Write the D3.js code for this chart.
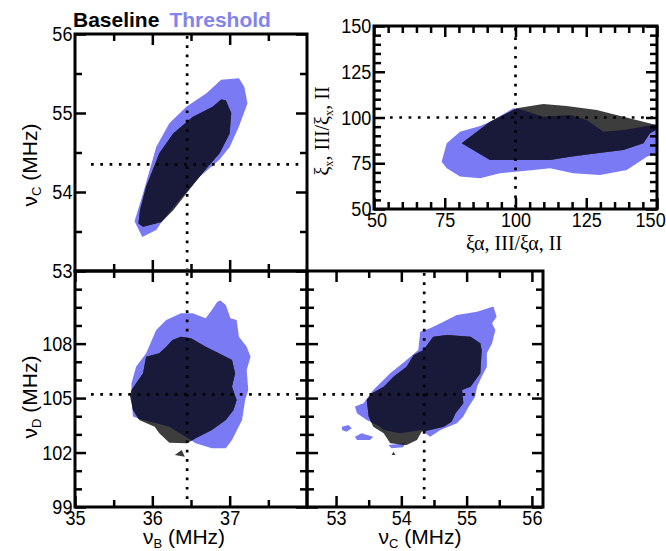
<!DOCTYPE html>
<html>
<head>
<meta charset="utf-8">
<script src="https://cdn.jsdelivr.net/npm/d3@7"></script>
<style>
  body { margin: 0; background: #fff; }
  svg { display: block; }
</style>
</head>
<body>
<svg id="chart" width="666" height="551"></svg>
<script>
// --- reference values (dotted lines)
const refB = 36.45, refC = 54.35, refD = 105.2, refXi = 100;

// --- top-left: nu_B vs nu_C
const tlThreshold = [[35.87,53.43],[35.77,53.63],[35.88,53.98],[36.05,54.57],[36.22,54.87],[36.44,55.08],[36.70,55.25],
  [36.89,55.42],[37.12,55.44],[37.19,55.33],[37.23,55.12],[37.12,54.83],[37.00,54.57],[36.87,54.41],[36.61,54.19],
  [36.35,53.90],[36.14,53.65],[36.05,53.52]];
const tlBaseline = [[35.82,53.60],[35.88,53.56],[36.12,53.62],[36.27,53.77],[36.44,53.98],[36.65,54.24],[36.87,54.49],
  [37.00,54.74],[37.02,55.00],[36.95,55.16],[36.89,55.17],[36.78,55.08],[36.52,54.95],[36.27,54.74],[36.09,54.49],
  [35.92,54.07],[35.84,53.77]];

// --- top-right: xi_alpha ratio vs xi_x ratio
const trThreshold = [[73.9,75.8],[75.7,85.9],[80.4,92.2],[87.5,95.4],[91.0,97.7],[99.2,105.0],[101.6,104.5],[109.8,100.4],
  [119.3,101.4],[125.2,98.6],[131.0,92.2],[138.1,93.2],[145.2,95.0],[150.0,96.4],[152.8,97.5],[152.8,82.2],[146.4,78.6],
  [139.3,71.3],[129.9,68.6],[120.4,69.5],[112.2,72.2],[106.3,71.3],[94.5,69.5],[87.5,66.8],[80.4,67.7],[75.7,72.2]];
const trBaseline = [[81.0,85.9],[91.0,97.7],[100.4,105.0],[109.8,107.4],[118.1,106.3],[128.7,104.1],[138.1,100.4],
  [145.2,97.7],[152.0,95.0],[147.5,91.4],[145.2,85.9],[138.1,82.2],[128.7,80.4],[119.3,78.6],[112.2,76.8],[101.6,76.8],
  [91.0,76.8]];

// --- bottom-left: nu_B vs nu_D
const blThreshold = [[36.88,110.37],[36.95,110.13],[37.01,109.40],[37.09,109.30],[37.12,108.38],[37.22,107.83],
  [37.27,107.28],[37.22,106.55],[37.24,105.45],[37.20,104.90],[37.16,103.79],[37.03,102.69],[36.95,102.23],[36.77,102.23],
  [36.56,102.51],[36.43,102.87],[36.22,103.42],[36.05,103.61],[35.88,103.79],[35.75,103.98],[35.73,104.90],[35.73,105.82],
  [35.79,106.73],[35.92,107.47],[36.05,108.75],[36.18,109.30],[36.37,109.67],[36.52,109.67],[36.69,109.40],[36.77,109.85],
  [36.84,110.31]];
const blBaseline = [[36.37,108.38],[36.50,108.29],[36.69,107.83],[36.86,107.47],[37.03,107.10],[37.07,106.37],
  [37.03,105.63],[37.09,104.90],[37.05,104.34],[36.95,103.79],[36.77,103.24],[36.56,102.79],[36.45,102.51],[36.22,102.54],
  [36.09,103.06],[36.03,103.42],[35.83,103.79],[35.75,104.34],[35.71,105.12],[35.73,105.45],[35.88,106.37],[35.92,107.28],
  [36.09,107.47],[36.18,107.83],[36.26,108.20]];
const blBaselineIsland = [[36.29,101.87],[36.38,102.14],[36.42,101.77]];

// --- bottom-right: nu_C vs nu_D
const brThreshold = [[55.41,110.04],[55.46,109.48],[55.39,109.12],[55.44,108.75],[55.39,108.02],[55.31,107.47],
  [55.31,106.73],[55.23,106.18],[55.16,105.63],[55.13,105.08],[55.02,104.45],[54.95,103.98],[54.85,103.61],[54.60,103.24],
  [54.44,102.87],[54.31,103.24],[53.98,103.06],[53.73,103.24],[53.68,103.42],[53.47,103.79],[53.32,104.16],[53.29,104.53],
  [53.42,104.71],[53.57,105.45],[53.83,106.37],[54.08,107.10],[54.26,107.65],[54.29,108.66],[54.44,108.85],[54.60,109.12],
  [54.85,109.58],[55.16,109.76]];
const brThresholdIslands = [
  [[53.09,103.42],[53.19,103.52],[53.24,103.34],[53.16,103.15],[53.09,103.24]],
  [[53.29,102.87],[53.39,103.06],[53.57,102.87],[53.52,102.69],[53.32,102.69]],
  [[53.80,102.42],[54.06,102.51],[54.03,102.29],[53.85,102.23]]];
const brBaseline = [[54.49,108.38],[54.70,108.48],[55.06,108.38],[55.21,108.02],[55.23,107.65],[55.21,106.37],
  [55.06,105.63],[54.93,105.45],[54.95,104.71],[54.83,104.16],[54.77,103.70],[54.65,103.42],[54.44,103.24],[54.31,103.15],
  [54.24,102.69],[54.08,102.42],[53.83,102.51],[53.73,103.06],[53.57,103.42],[53.50,103.98],[53.47,104.90],[53.55,105.26],
  [53.73,105.63],[53.88,106.18],[54.08,106.73],[54.19,107.37],[54.34,107.65],[54.44,108.15]];
const brBaselineIsland = [[53.85,101.86],[53.88,102.05],[53.91,101.86]];

// --- ticks
const tlXMajor = [36, 37], tlXMinor = [35.5, 36.5, 37.5];
const bXMajor = [35, 36, 37];
const tlYMajor = [53, 54, 55, 56], tlYMinor = [53.5, 54.5, 55.5];
const dYMajor = [99, 102, 105, 108], dYMinor = [100, 101, 103, 104, 106, 107, 109, 110, 111];
const cXMajor = [53, 54, 55, 56], cXMinor = [53.5, 54.5, 55.5];
const xiMajor = [50, 75, 100, 125, 150], xiMinor = d3.range(55, 150, 5).filter((v) => v % 25);

const colThreshold = "#7a7af5", colBaseline = "#3d3d3d", colBoth = "#19193a";

const svg = d3.select("#chart");
const defs = svg.append("defs");

const panels = [
  { id: "tl", x: [75, 307], y: [271, 34], xd: [35, 38], yd: [53, 56],
    xMaj: tlXMajor, xMin: tlXMinor, yMaj: tlYMajor, yMin: tlYMinor, xLab: false, yLab: true,
    thr: [tlThreshold], base: [tlBaseline], rx: refB, ry: refC },
  { id: "tr", x: [374, 657], y: [209, 26], xd: [50, 150], yd: [50, 150],
    xMaj: xiMajor, xMin: xiMinor, yMaj: xiMajor, yMin: xiMinor, xLab: true, yLab: true,
    thr: [trThreshold], base: [trBaseline], rx: refXi, ry: refXi },
  { id: "bl", x: [75, 307], y: [507, 271], xd: [35, 38], yd: [99, 112],
    xMaj: bXMajor, xMin: tlXMinor, yMaj: dYMajor, yMin: dYMinor, xLab: true, yLab: true,
    thr: [blThreshold], base: [blBaseline, blBaselineIsland], rx: refB, ry: refD },
  { id: "br", x: [307, 543], y: [507, 271], xd: [52.555, 56.17], yd: [99, 112],
    xMaj: cXMajor, xMin: cXMinor, yMaj: dYMajor, yMin: dYMinor, xLab: true, yLab: false,
    thr: [brThreshold, ...brThresholdIslands], base: [brBaseline, brBaselineIsland], rx: refC, ry: refD }
];

const tickFont = "'Liberation Sans', Arial, sans-serif";

panels.forEach((p) => {
  const x = d3.scaleLinear().domain(p.xd).range(p.x);
  const y = d3.scaleLinear().domain(p.yd).range(p.y);
  const line = d3.line().x((d) => x(d[0])).y((d) => y(d[1])).curve(d3.curveLinearClosed);
  const multi = (polys) => polys.map(line).join("");

  defs.append("clipPath").attr("id", `frame-${p.id}`)
    .append("rect").attr("x", p.x[0]).attr("y", p.y[1])
    .attr("width", p.x[1] - p.x[0]).attr("height", p.y[0] - p.y[1]);
  defs.append("clipPath").attr("id", `thr-${p.id}`)
    .append("path").attr("d", multi(p.thr));

  const g = svg.append("g").attr("clip-path", `url(#frame-${p.id})`);
  g.append("path").attr("d", multi(p.thr)).attr("fill", colThreshold);
  g.append("path").attr("d", multi(p.base)).attr("fill", colBaseline);
  g.append("g").attr("clip-path", `url(#thr-${p.id})`)
    .append("path").attr("d", multi(p.base)).attr("fill", colBoth);

  // dotted reference lines
  const dots = { stroke: "#000", "stroke-width": 2.7, "stroke-dasharray": "2.7 6.6", fill: "none" };
  const vl = g.append("line").attr("x1", x(p.rx)).attr("x2", x(p.rx)).attr("y1", p.y[1] + 2).attr("y2", p.y[0] - 2);
  const hl = g.append("line").attr("y1", y(p.ry)).attr("y2", y(p.ry)).attr("x1", p.x[0] + 16).attr("x2", p.x[1] - 4);
  for (const [k, v] of Object.entries(dots)) { vl.attr(k, v); hl.attr(k, v); }

  // ticks, all pointing inwards
  const fmt = d3.format("d");
  const ax = (gen, vals, len, lab, tr) => {
    const a = svg.append("g").attr("transform", tr)
      .call(gen.tickValues(vals).tickSize(-len).tickPadding(3).tickFormat(lab ? fmt : () => ""));
    a.select(".domain").remove();
    a.selectAll(".tick line").attr("stroke", "#000").attr("stroke-width", 2.5);
    a.selectAll("text").attr("fill", "#000").style("font-family", tickFont).style("font-size", "21px")
      .attr("transform", "scale(0.86,1)");
    return a;
  };
  const bx = `translate(0,${p.y[0]})`, tx = `translate(0,${p.y[1]})`;
  const lx = `translate(${p.x[0]},0)`, rxT = `translate(${p.x[1]},0)`;
  const bottom = ax(d3.axisBottom(x), p.xMaj, 11, p.xLab, bx);
  ax(d3.axisBottom(x), p.xMin, 7, false, bx);
  ax(d3.axisTop(x), p.xMaj, 11, false, tx);
  ax(d3.axisTop(x), p.xMin, 7, false, tx);
  ax(d3.axisLeft(y), p.yMaj, 11, p.yLab, lx);
  ax(d3.axisLeft(y), p.yMin, 7, false, lx);
  ax(d3.axisRight(y), p.yMaj, 11, false, rxT);
  ax(d3.axisRight(y), p.yMin, 7, false, rxT);

  if (p.id === "tr") {
    // end labels sit a little inside the frame
    bottom.selectAll(".tick text").attr("dx", (d) => (d === 50 ? 3 : d === 150 ? -8 : 0));
  }

  svg.append("rect").attr("x", p.x[0]).attr("y", p.y[1])
    .attr("width", p.x[1] - p.x[0]).attr("height", p.y[0] - p.y[1])
    .attr("fill", "none").attr("stroke", "#000").attr("stroke-width", 3);
});

// --- axis titles
function label(parts, cx, cy, rot, family, size) {
  const t = svg.append("text")
    .attr("transform", `translate(${cx},${cy})` + (rot ? " rotate(-90)" : ""))
    .attr("text-anchor", "middle").style("font-family", family).style("font-size", size + "px")
    .attr("fill", "#000");
  let shift = 0;
  parts.forEach(([s, sub]) => {
    const dy = sub ? 4 - shift : -shift;
    shift = sub ? 4 : 0;
    t.append("tspan").text(s).attr("dy", dy).style("font-size", sub ? (size * 0.62) + "px" : null);
  });
}
const sans = "'Liberation Sans', Arial, sans-serif";
const serif = "'Liberation Serif', 'Times New Roman', serif";
label([["ν"], ["C", 1], [" (MHz)"]], 37, 165, true, sans, 21);
label([["ν"], ["D", 1], [" (MHz)"]], 37, 397, true, sans, 21);
label([["ν"], ["B", 1], [" (MHz)"]], 184, 544, false, sans, 21);
label([["ν"], ["C", 1], [" (MHz)"]], 420, 544, false, sans, 21);
label([["ξα, III/ξα, II"]], 514, 250, false, serif, 20);
label([["ξ"], ["x", 1], [", III/ξ"], ["x", 1], [", II"]], 329, 131, true, serif, 20);

// --- legend
const leg = svg.append("text").attr("x", 73).attr("y", 27)
  .style("font-family", sans).style("font-size", "21px").style("font-weight", "bold");
leg.append("tspan").text("Baseline").attr("fill", "#000");
leg.append("tspan").text("Threshold").attr("fill", "#8383ee").attr("dx", 10);
</script>
</body>
</html>
